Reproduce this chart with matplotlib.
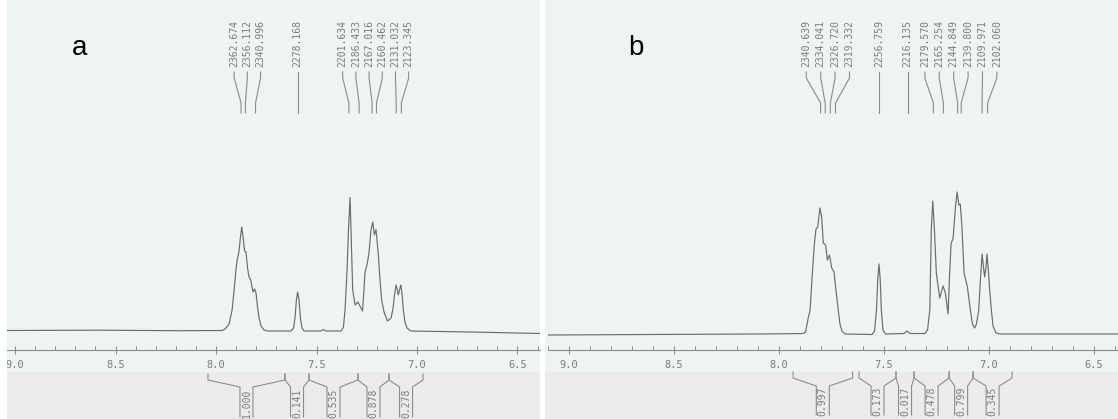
import matplotlib
matplotlib.use("Agg")
import matplotlib.pyplot as plt
from matplotlib.patches import Rectangle
from matplotlib.ticker import MultipleLocator, FormatStrFormatter
from matplotlib.transforms import Affine2D

W, H = 1118, 419
DPI = 100
MHZ = 300.0

# ---- spectrum a ----
a_peaks_hz = [2362.674, 2356.112, 2340.996, 2278.168, 2201.634,
              2186.433, 2167.016, 2160.462, 2131.032, 2123.345]
a_int_ranges = [(8.040, 7.657), (7.657, 7.537), (7.537, 7.294),
                (7.294, 7.139), (7.139, 6.970)]
a_int_values = ["1.000", "0.141", "0.535", "0.878", "0.278"]
a_ppm = [9.040, 8.577, 8.179, 7.970, 7.955, 7.935, 7.920, 7.910, 7.900, 7.893,
         7.886, 7.878, 7.872, 7.866, 7.858, 7.851, 7.843, 7.836, 7.827, 7.821,
         7.816, 7.808, 7.801, 7.794, 7.786, 7.776, 7.761, 7.741, 7.627, 7.614,
         7.607, 7.600, 7.594, 7.587, 7.580, 7.572, 7.562, 7.478, 7.465, 7.453,
         7.378, 7.366, 7.358, 7.348, 7.341, 7.333, 7.327, 7.320, 7.308, 7.294,
         7.284, 7.271, 7.264, 7.259, 7.247, 7.239, 7.229, 7.220, 7.212, 7.204,
         7.193, 7.184, 7.176, 7.164, 7.147, 7.129, 7.119, 7.112, 7.104, 7.098,
         7.093, 7.087, 7.080, 7.074, 7.068, 7.060, 7.050, 7.030, 6.736, 6.388]
a_inten = [0.5, 0.8, 0.3, 0.5, 2, 7, 21, 41, 63, 73,
           79, 95, 104, 95, 80, 79, 63, 54, 51, 44,
           39, 42, 38, 25, 13, 5, 1, 0, 0, 3,
           13, 31, 39, 31, 13, 3, 0, 0, 1.5, 0,
           0, 4, 21, 61, 101, 133.5, 91, 41, 26, 29,
           25, 20, 41, 58, 68, 78, 101, 109, 96, 101.5,
           78, 51, 31, 19, 10, 13, 23, 36, 46, 41,
           36, 41, 46, 36, 21, 9, 3, 0, -1, -2.5]

# ---- spectrum b ----
b_peaks_hz = [2340.639, 2334.041, 2326.720, 2319.332, 2256.759, 2216.135,
              2179.570, 2165.254, 2144.849, 2139.800, 2109.971, 2102.060]
b_int_ranges = [(7.933, 7.650), (7.619, 7.443), (7.443, 7.357),
                (7.357, 7.190), (7.190, 7.076), (7.076, 6.890)]
b_int_values = ["0.997", "0.173", "0.017", "0.478", "0.799", "0.345"]
b_ppm = [9.100, 8.614, 8.090, 7.886, 7.874, 7.862, 7.852, 7.843, 7.833, 7.824,
         7.816, 7.805, 7.797, 7.789, 7.778, 7.770, 7.760, 7.749, 7.738, 7.729,
         7.718, 7.710, 7.700, 7.686, 7.557, 7.545, 7.536, 7.530, 7.524, 7.518,
         7.513, 7.505, 7.493, 7.405, 7.390, 7.376, 7.305, 7.293, 7.282, 7.275,
         7.268, 7.260, 7.251, 7.235, 7.219, 7.208, 7.195, 7.189, 7.181, 7.171,
         7.160, 7.152, 7.144, 7.137, 7.129, 7.119, 7.103, 7.089, 7.079, 7.069,
         7.060, 7.049, 7.041, 7.033, 7.027, 7.021, 7.014, 7.010, 7.002, 6.997,
         6.989, 6.981, 6.967, 6.948, 6.386]
b_inten = [-1, -0.5, 0, 0.5, 2, 15, 24, 55, 87, 105,
           107, 126, 117, 91, 89, 74, 79, 66, 62, 44,
           24, 10, 3, 0, -0.5, 3, 24, 54, 70, 54,
           24, 4, 0, 0.5, 3, 0.5, 0.5, 4, 24, 104,
           133, 104, 61, 36, 48, 41, 20, 54, 90, 96,
           127, 142, 129, 130, 107, 61, 47, 24, 10, 6,
           10, 24, 55, 80, 68, 57, 68, 80, 60, 44,
           24, 8, 1, 0, 0]

MONO = ["DejaVu Sans Mono"]
INK = "#6c6c6c"
TXT = "#7c7c7c"
RULE = "#8c8c8c"

fig = plt.figure(figsize=(W / DPI, H / DPI), dpi=DPI, facecolor="white")
# pixel coordinates measured from the top-left corner
px = Affine2D().scale(1 / DPI, -1 / DPI).translate(0, H / DPI) + fig.dpi_scale_trans


def spread(xs, gap):
    # push crowded peak labels apart, keeping each group centred
    groups = [[x] for x in sorted(xs)]
    merged = True
    while merged:
        merged = False
        out = []
        for g in groups:
            if out:
                prev = out[-1]
                pr = sum(prev) / len(prev) + (len(prev) - 1) / 2 * gap
                gl = sum(g) / len(g) - (len(g) - 1) / 2 * gap
                if gl - pr < gap:
                    out[-1] = prev + g
                    merged = True
                    continue
            out.append(g)
        groups = out
    res = []
    for g in groups:
        c = sum(g) / len(g)
        res += [c + (i - (len(g) - 1) / 2) * gap for i in range(len(g))]
    return res


def panel(x0, x1, bg0, bg1, lim, base, ppm, inten, peaks_hz, gap,
          ranges, values, letter, letter_x, brk):
    fig.patches.append(Rectangle((bg0, 0), bg1 - bg0, 372, transform=px,
                                 facecolor="#eef3f3", edgecolor="none", zorder=-5))
    fig.patches.append(Rectangle((bg0, 372), bg1 - bg0, H - 372, transform=px,
                                 facecolor="#edeaeb", edgecolor="none", zorder=-5))
    ax = fig.add_axes([x0 / W, (H - 350) / H, (x1 - x0) / W, 350 / H])
    ax.set_facecolor("none")
    ax.set_xlim(*lim)
    ax.set_ylim(-(350 - base), base)
    for s in ["left", "right", "top"]:
        ax.spines[s].set_visible(False)
    ax.spines["bottom"].set_color(RULE)
    ax.spines["bottom"].set_linewidth(0.8)
    ax.set_yticks([])
    ax.xaxis.set_major_locator(MultipleLocator(0.5))
    ax.xaxis.set_minor_locator(MultipleLocator(0.1))
    ax.xaxis.set_major_formatter(FormatStrFormatter("%.1f"))
    ax.tick_params(axis="x", which="major", direction="inout", length=6,
                   width=0.8, color=RULE, pad=4, labelsize=7.5,
                   labelcolor=TXT)
    ax.tick_params(axis="x", which="minor", direction="in", length=3,
                   width=0.7, color=RULE)
    for lab in ax.get_xticklabels():
        lab.set_family(MONO)

    ax.plot(ppm, inten, color=INK, lw=0.85)

    def to_px(p):
        return x0 + (lim[0] - p) / (lim[0] - lim[1]) * (x1 - x0)

    # peak list labels with connectors
    pk = [to_px(h / MHZ) for h in peaks_hz]
    lx = spread(pk, gap)
    for h, p, l in zip(peaks_hz, pk, lx):
        fig.text(l, 67, f"{h:.3f}", transform=px, rotation=90, ha="center",
                 va="bottom", family=MONO, fontsize=7, color=TXT)
        fig.add_artist(plt.Line2D([l, l, p, p], [72, 78, 103, 113],
                                  transform=px, color=RULE, lw=0.8))

    # integral brackets
    top, knee, boxtop, bot = brk
    for (ra, rb), v in zip(ranges, values):
        xa, xb = to_px(ra), to_px(rb)
        mid = (xa + xb) / 2
        for xe, xbx in ((xa, mid - 6.5), (xb, mid + 6.5)):
            fig.add_artist(plt.Line2D([xe, xe, xbx, xbx], [top, knee, boxtop, bot],
                                      transform=px, color=RULE, lw=0.8))
        fig.text(mid, (boxtop + bot) / 2 + 1, v, transform=px, rotation=90,
                 ha="center", va="center", family=MONO, fontsize=7, color=TXT)

    fig.text(letter_x, 48, letter, transform=px, ha="center", va="center",
             family=["Liberation Sans"], fontsize=20, color="black")
    return ax


panel(7, 540, 7, 540, (9.040, 6.388), 331, a_ppm, a_inten, a_peaks_hz, 13.2,
      a_int_ranges, a_int_values, "a", 80, (374, 380, 387, 417))
panel(548, 1118, 545, 1118, (9.100, 6.386), 334, b_ppm, b_inten, b_peaks_hz, 14.4,
      b_int_ranges, b_int_values, "b", 636, (372, 378, 386, 415))

# white margin on the left edge of the first scan
fig.patches.append(Rectangle((0, 0), 7, H, transform=px, facecolor="white",
                             edgecolor="none", zorder=20))

fig.savefig("out.png", dpi=DPI, facecolor="white")
